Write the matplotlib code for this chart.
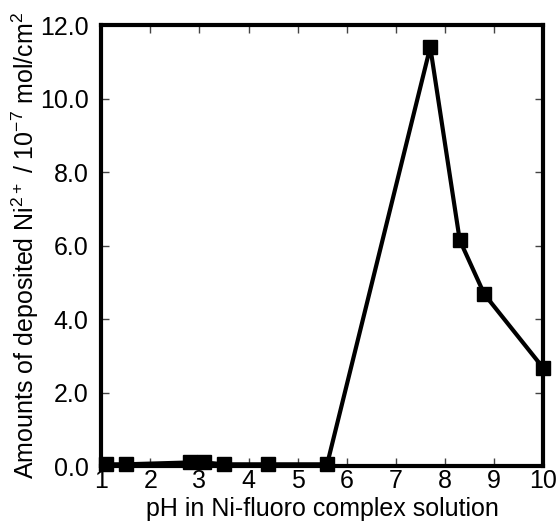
import matplotlib
matplotlib.use('Agg')
import matplotlib.pyplot as plt
from matplotlib.ticker import FormatStrFormatter

plt.rcParams['font.family'] = ['Liberation Sans', 'DejaVu Sans']
plt.rcParams['mathtext.fontset'] = 'custom'
plt.rcParams['mathtext.rm'] = 'Liberation Sans'
plt.rcParams['mathtext.it'] = 'Liberation Sans'

# pH values and deposited Ni2+ amounts (10^-7 mol/cm2)
ph = [1.1, 1.5, 2.8, 3.1, 3.5, 4.4, 5.6, 7.7, 8.3, 8.8, 10.0]
amount = [0.05, 0.05, 0.1, 0.1, 0.05, 0.05, 0.05, 11.4, 6.15, 4.68, 2.67]

xticks = [1, 2, 3, 4, 5, 6, 7, 8, 9, 10]
yticks = [0, 2, 4, 6, 8, 10, 12]

fig = plt.figure(figsize=(5.56, 5.22), dpi=100)
ax = fig.add_axes([0.182, 0.107, 0.795, 0.845])

ax.plot(ph, amount, color='black', lw=3, marker='s', ms=9.5,
        markerfacecolor='black', markeredgecolor='black', clip_on=False, zorder=3)

ax.set_xlim(1, 10)
ax.set_ylim(0, 12)
ax.set_xticks(xticks)
ax.set_yticks(yticks)
ax.yaxis.set_major_formatter(FormatStrFormatter('%.1f'))

for s in ax.spines.values():
    s.set_linewidth(3)
ax.tick_params(direction='in', length=6, width=1, color='#444444',
               top=True, right=True, labelsize=18)
ax.tick_params(axis='x', pad=2)
ax.tick_params(axis='y', pad=9)

ax.set_xlabel('pH in Ni-fluoro complex solution', fontsize=18, labelpad=3)
ax.set_ylabel(r'Amounts of deposited Ni$^{2+}$ / 10$^{-7}$ mol/cm$^{2}$',
              fontsize=18, labelpad=-1)

fig.savefig('out.png', dpi=100)
